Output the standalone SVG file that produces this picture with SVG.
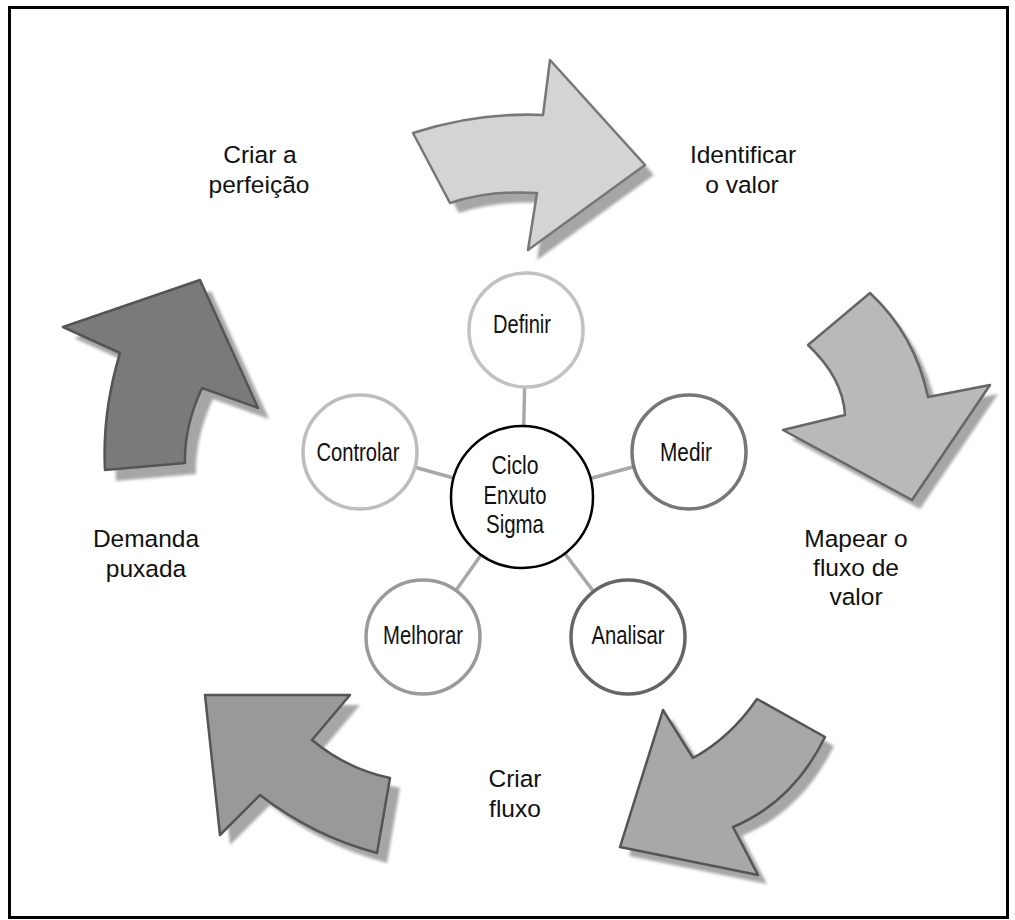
<svg xmlns="http://www.w3.org/2000/svg" xmlns:xlink="http://www.w3.org/1999/xlink" width="1015" height="920" viewBox="0 0 1015 920">
  <style>
    .label { font-family: "Liberation Sans", Arial, sans-serif; font-size: 24.5px; fill: #111; text-anchor: middle; }
    .step { font-family: "Liberation Sans", Arial, sans-serif; font-size: 25px; fill: #111; text-anchor: middle; }
    .arrow { stroke-width: 2.5; stroke-linejoin: round; }
    .shadow { fill: #a6a6a6; stroke: none; filter: url(#soft); }
    .ring { fill: #fff; stroke-width: 3.5; }
    .spoke { stroke: #a8a8a8; stroke-width: 3.5; }
  </style>
  <defs>
    <filter id="soft" x="-10%" y="-10%" width="120%" height="120%">
      <feGaussianBlur stdDeviation="1.5"/>
    </filter>
    <!-- curved block arrows around the cycle -->
    <path id="a1" d="M413,133 Q478,112 543,115 L550,60 L645,165 L528,250 L537,193 Q490,190 450,203 Z"/>
    <path id="a2" d="M808,345 L870,293 Q915,335 928,397 L990,385 L912,500 L783,430 L845,415 Q843,378 808,345 Z"/>
    <path id="a3" d="M757,699 L825,737 Q793,802 733,827 L758,875 L620,847 L663,710 L693,758 Q730,738 757,699 Z"/>
    <path id="a4" d="M205,695 L350,695 L312,740 Q347,769 390,778 L377,853 Q313,836 260,795 L220,835 Z"/>
    <path id="a5" d="M63,327 L200,280 L258,408 L202,388 Q184,427 185,463 L105,470 Q102,412 120,353 Z"/>
  </defs>

  <rect width="1015" height="920" fill="#fff"/>
  <rect x="9.5" y="7.5" width="998" height="910" fill="none" stroke="#000" stroke-width="3"/>

  <!-- outer cycle arrows with drop shadows -->
  <g id="arrow-identificar">
    <use xlink:href="#a1" class="shadow" transform="translate(9,10)"/>
    <use xlink:href="#a1" class="arrow" fill="#d4d4d4" stroke="#777"/>
  </g>
  <g id="arrow-mapear">
    <use xlink:href="#a2" class="shadow" transform="translate(8,9)"/>
    <use xlink:href="#a2" class="arrow" fill="#b9b9b9" stroke="#666"/>
  </g>
  <g id="arrow-fluxo">
    <use xlink:href="#a3" class="shadow" transform="translate(9,9)"/>
    <use xlink:href="#a3" class="arrow" fill="#a8a8a8" stroke="#555"/>
  </g>
  <g id="arrow-demanda">
    <use xlink:href="#a4" class="shadow" transform="translate(10,10)"/>
    <use xlink:href="#a4" class="arrow" fill="#999" stroke="#555"/>
  </g>
  <g id="arrow-perfeicao">
    <use xlink:href="#a5" class="shadow" transform="translate(11,11)"/>
    <use xlink:href="#a5" class="arrow" fill="#7a7a7a" stroke="#555"/>
  </g>

  <!-- outer labels -->
  <g id="label-perfeicao">
    <text class="label" x="260" y="163">Criar a</text>
    <text class="label" x="259" y="193">perfeição</text>
  </g>
  <g id="label-identificar">
    <text class="label" x="743" y="163">Identificar</text>
    <text class="label" x="742" y="193">o valor</text>
  </g>
  <g id="label-mapear">
    <text class="label" x="856" y="547">Mapear o</text>
    <text class="label" x="856" y="576">fluxo de</text>
    <text class="label" x="856" y="605">valor</text>
  </g>
  <g id="label-fluxo">
    <text class="label" x="515" y="787">Criar</text>
    <text class="label" x="515" y="817">fluxo</text>
  </g>
  <g id="label-demanda">
    <text class="label" x="146" y="547">Demanda</text>
    <text class="label" x="146" y="577">puxada</text>
  </g>

  <!-- spokes from the hub to each DMAIC step -->
  <g id="connectors">
    <line class="spoke" x1="522" y1="497" x2="526" y2="330"/>
    <line class="spoke" x1="522" y1="497" x2="688" y2="452"/>
    <line class="spoke" x1="522" y1="497" x2="628" y2="637"/>
    <line class="spoke" x1="522" y1="497" x2="423" y2="637"/>
    <line class="spoke" x1="522" y1="497" x2="360" y2="452"/>
  </g>

  <!-- step captions use a condensed face, set by textLength -->
  <g id="node-definir">
    <circle class="ring" cx="526" cy="330" r="57" stroke="#c2c2c2"/>
    <text class="step" x="522" y="333" textLength="58" lengthAdjust="spacingAndGlyphs">Definir</text>
  </g>
  <g id="node-medir">
    <circle class="ring" cx="689" cy="452" r="57" stroke="#777"/>
    <text class="step" x="686" y="461" textLength="52" lengthAdjust="spacingAndGlyphs">Medir</text>
  </g>
  <g id="node-analisar">
    <circle class="ring" cx="628" cy="637" r="57" stroke="#666"/>
    <text class="step" x="628" y="644" textLength="73" lengthAdjust="spacingAndGlyphs">Analisar</text>
  </g>
  <g id="node-melhorar">
    <circle class="ring" cx="423" cy="637" r="57" stroke="#9a9a9a"/>
    <text class="step" x="423" y="644" textLength="80" lengthAdjust="spacingAndGlyphs">Melhorar</text>
  </g>
  <g id="node-controlar">
    <circle class="ring" cx="360" cy="452" r="57" stroke="#bdbdbd"/>
    <text class="step" x="358" y="461" textLength="83" lengthAdjust="spacingAndGlyphs">Controlar</text>
  </g>
  <g id="node-hub">
    <circle cx="522" cy="497" r="71" fill="#fff" stroke="#000" stroke-width="2.5"/>
    <text class="step" x="515" y="474" textLength="47" lengthAdjust="spacingAndGlyphs">Ciclo</text>
    <text class="step" x="515" y="504" textLength="63" lengthAdjust="spacingAndGlyphs">Enxuto</text>
    <text class="step" x="515" y="533" textLength="58" lengthAdjust="spacingAndGlyphs">Sigma</text>
  </g>
</svg>
